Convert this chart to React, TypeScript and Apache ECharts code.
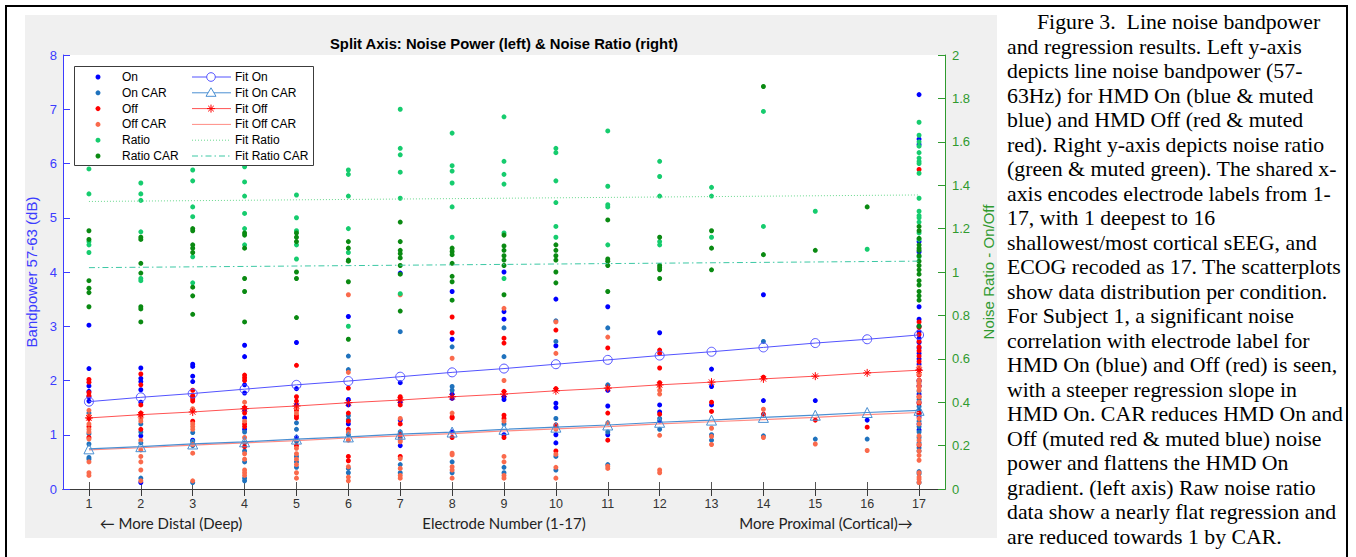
import React, { useEffect, useRef } from "react";
import * as echarts from "echarts";

// ---------- data ----------
const electrodes = [1, 2, 3, 4, 5, 6, 7, 8, 9, 10, 11, 12, 13, 14, 15, 16, 17];

// left axis: bandpower (dB)
const onValues: number[][] = [
  [3.02, 2.22, 1.9, 1.8, 1.7, 1.62],
  [2.23, 2.04, 1.98, 1.83, 1.6, 0.98, 0.12],
  [2.3, 2.26, 2.08, 1.98, 1.7, 0.9],
  [2.65, 2.44, 1.92, 1.77, 1.45, 1.31, 1.1],
  [2.7, 1.85, 1.55, 0.95],
  [3.18, 1.65, 1.55, 1.2],
  [3.98, 1.96, 1.6, 1.27, 0.8],
  [3.64, 2.76, 1.75, 1.67, 1.05],
  [4.0, 3.27, 3.13, 1.7, 1.65, 1.0],
  [3.5, 2.64, 1.58, 1.5, 1.0, 0.85],
  [3.36, 1.82, 1.53, 1.0],
  [2.88, 1.55, 1.42, 1.25],
  [2.21, 1.89, 1.55],
  [3.58, 1.63],
  [1.63],
  [1.27],
  [7.27, 6.45, 6.35, 4.56, 4.37, 3.36, 3.13, 3.0, 2.9, 2.78, 2.7, 2.6, 2.5, 2.4, 2.3, 2.2, 2.0, 1.9, 1.75, 1.6, 1.4, 1.33, 1.2, 1.09],
];
const onCarValues: number[][] = [
  [1.4, 1.02, 0.83, 0.58, 0.55],
  [1.2, 1.05, 0.85, 0.2],
  [1.04, 0.88, 0.8, 0.12],
  [1.05, 0.85, 0.7, 0.5, 0.2, 0.15],
  [1.22, 1.1, 0.88, 0.6, 0.5, 0.4],
  [2.45, 2.2, 1.35, 1.28, 1.0, 0.38, 0.3],
  [2.9, 1.05, 0.95, 0.45, 0.3],
  [2.62, 1.89, 1.82, 0.5, 0.3],
  [2.97, 2.44, 1.2, 0.4, 0.3],
  [3.1, 2.72, 1.3, 1.15, 0.6, 0.35],
  [2.97, 1.92, 1.05, 0.45],
  [1.3, 1.1],
  [1.0, 0.9],
  [2.72, 0.98],
  [0.92],
  [0.92],
  [1.98, 1.8, 1.65, 1.52, 1.45, 1.38, 1.25, 1.15, 1.05, 0.95, 0.85, 0.76, 0.7, 0.32, 0.28, 0.12],
];
const offValues: number[][] = [
  [2.02, 1.97, 1.78, 1.72, 1.3, 1.15, 0.95],
  [2.12, 1.92, 1.55, 1.4, 1.35, 1.1],
  [1.82, 1.72, 1.66, 1.62, 1.45, 1.25],
  [2.1, 2.05, 2.0, 1.5, 1.4, 1.2, 1.15, 0.78],
  [2.28, 1.7, 1.62, 1.45, 1.35, 1.31, 0.8],
  [1.86, 1.4, 1.25, 1.1, 0.6, 0.52],
  [1.7, 1.66, 1.55, 1.2, 1.0, 0.6],
  [3.17, 2.88, 1.33, 1.31, 0.95],
  [2.78, 2.69, 1.8, 1.36, 1.3, 0.95],
  [2.93, 1.85, 1.18, 0.7],
  [2.6, 1.4, 0.9],
  [2.56, 2.5, 2.23, 1.96, 1.38],
  [1.6, 1.43],
  [2.06, 1.38],
  [1.27],
  [1.14],
  [5.89, 3.08, 2.98, 2.85, 2.72, 2.62, 2.55, 2.45, 2.35, 2.2, 2.1, 2.0, 1.9, 1.7, 1.58, 1.4, 0.81],
];
const offCarValues: number[][] = [
  [1.45, 1.35, 1.2, 1.1, 1.05, 0.92, 0.5, 0.3, 0.25],
  [1.3, 1.25, 0.9, 0.72, 0.6, 0.5, 0.35, 0.15],
  [1.48, 1.2, 1.15, 1.1, 0.82, 0.66, 0.15],
  [1.6, 1.25, 0.95, 0.65, 0.55, 0.35, 0.3, 0.25],
  [1.5, 1.4, 0.75, 0.65, 0.55, 0.45, 0.3, 0.2],
  [3.58, 2.15, 1.05, 0.9, 0.41, 0.22, 0.15],
  [3.58, 1.3, 0.9, 0.87, 0.56, 0.38, 0.25, 0.2],
  [2.41, 1.4, 0.66, 0.63, 0.41, 0.35, 0.2],
  [3.33, 2.0, 1.25, 0.6, 0.5, 0.25, 0.2],
  [3.08, 2.5, 1.1, 0.64, 0.4, 0.2],
  [2.8, 1.86, 1.22, 0.42, 0.38],
  [1.9, 1.82, 1.75, 0.99, 0.35, 0.3],
  [1.12, 0.97, 0.82],
  [1.47, 0.95],
  [0.83],
  [0.71],
  [2.25, 2.12, 2.0, 1.95, 1.88, 1.82, 1.7, 1.6, 1.3, 1.2, 0.98, 0.9, 0.82, 0.7, 0.62, 0.53, 0.3, 0.22, 0.18, 0.12],
];

// right axis: noise ratio (On/Off)
const ratioValues: number[][] = [
  [1.475, 1.36, 1.14, 1.125, 1.09],
  [1.41, 1.36, 1.33, 1.185, 0.97, 0.96],
  [1.47, 1.42, 1.3, 1.255, 1.07, 0.95],
  [1.485, 1.415, 1.35, 1.27, 1.2, 1.125],
  [1.355, 1.25, 1.19, 1.125, 1.06],
  [1.47, 1.45, 1.35, 1.2, 1.09, 0.75],
  [1.75, 1.57, 1.54, 1.46, 1.34, 0.9],
  [1.64, 1.49, 1.465, 1.41, 1.3, 1.16],
  [1.715, 1.51, 1.45, 1.405, 1.18, 0.97],
  [1.57, 1.55, 1.42, 1.32, 1.21, 1.16],
  [1.65, 1.395, 1.31, 1.3, 1.125],
  [1.51, 1.44, 1.35, 1.14, 1.125],
  [1.39, 1.35, 1.16],
  [1.74, 1.21],
  [1.28],
  [1.105],
  [1.69, 1.63, 1.6, 1.58, 1.55, 1.525, 1.51, 1.5, 1.455, 1.34, 1.28, 1.26, 1.25, 1.23, 1.18, 1.15, 1.07],
];
const ratioCarValues: number[][] = [
  [1.19, 1.15, 0.96, 0.925, 0.905, 0.84],
  [1.16, 1.15, 1.04, 0.995, 0.84, 0.83, 0.77],
  [1.2, 1.19, 1.125, 1.11, 1.09, 0.93, 0.89, 0.805],
  [1.18, 1.17, 1.11, 0.97, 0.91, 0.77],
  [1.18, 1.16, 1.14, 1.0, 0.97, 0.79],
  [1.14, 1.11, 1.055, 1.05, 0.955, 0.69],
  [1.23, 1.14, 1.1, 1.085, 1.065, 1.03, 0.99, 0.82],
  [1.11, 1.095, 1.08, 1.04, 0.98, 0.955, 0.87],
  [1.17, 1.12, 1.1, 1.075, 1.055, 1.03, 0.895],
  [1.125, 1.1, 1.075, 1.055, 1.0, 0.95],
  [1.24, 1.06, 1.05, 1.03, 0.91],
  [1.16, 1.03, 1.02, 1.01, 0.97],
  [1.19, 1.11, 1.01],
  [1.855, 1.08],
  [1.1],
  [1.3],
  [1.21, 1.19, 1.155, 1.125, 1.11, 1.1, 1.075, 1.05, 1.03, 1.01, 0.99, 0.96, 0.94, 0.91, 0.89, 0.87, 0.75],
];

// regression fits (values at each electrode)
const fitOn = [1.61, 1.69, 1.76, 1.84, 1.92, 1.99, 2.07, 2.15, 2.22, 2.3, 2.38, 2.46, 2.53, 2.61, 2.69, 2.76, 2.84];
const fitOnCar = [0.74, 0.78, 0.83, 0.87, 0.92, 0.96, 1.01, 1.05, 1.1, 1.14, 1.18, 1.23, 1.27, 1.32, 1.36, 1.41, 1.45];
const fitOff = [1.31, 1.37, 1.42, 1.48, 1.53, 1.59, 1.64, 1.7, 1.75, 1.81, 1.86, 1.92, 1.97, 2.03, 2.08, 2.14, 2.19];
const fitOffCar = [0.72, 0.76, 0.81, 0.85, 0.89, 0.94, 0.98, 1.02, 1.07, 1.11, 1.15, 1.2, 1.24, 1.28, 1.32, 1.37, 1.41];
const fitRatioEnds = [1.325, 1.355];
const fitRatioCarEnds = [1.02, 1.05];

const leftTicks = { min: 0, max: 8, interval: 1 };
const rightTicks = { min: 0, max: 2, interval: 0.2 };

const titleText = "Split Axis: Noise Power (left) & Noise Ratio (right)";
const leftAxisName = "Bandpower 57-63 (dB)";
const rightAxisName = "Noise Ratio - On/Off";
const xAxisName = "Electrode Number (1-17)";
const xLeftNote = "\u2190 More Distal (Deep)";
const xRightNote = "More Proximal (Cortical)\u2192";

const captionLines = [
  "Figure 3.  Line noise bandpower",
  "and regression results. Left y-axis",
  "depicts line noise bandpower (57-",
  "63Hz) for HMD On (blue & muted",
  "blue) and HMD Off (red & muted",
  "red). Right y-axis depicts noise ratio",
  "(green & muted green). The shared x-",
  "axis encodes electrode labels from 1-",
  "17, with 1 deepest to 16",
  "shallowest/most cortical sEEG, and",
  "ECOG recoded as 17. The scatterplots",
  "show data distribution per condition.",
  "For Subject 1, a significant noise",
  "correlation with electrode label for",
  "HMD On (blue) and Off (red) is seen,",
  "with a steeper regression slope in",
  "HMD On. CAR reduces HMD On and",
  "Off (muted red & muted blue) noise",
  "power and flattens the HMD On",
  "gradient. (left axis) Raw noise ratio",
  "data show a nearly flat regression and",
  "are reduced towards 1 by CAR.",
];

// ---------- styles ----------
const C = {
  on: "#0000ff",
  onCar: "#1f72bd",
  off: "#ff0000",
  offCar: "#fa6a4c",
  ratio: "#16cc6e",
  ratioCar: "#0a8a12",
  fitOn: "#5353ff",
  fitOnCar: "#4a8fd2",
  fitOff: "#ff5252",
  fitOffCar: "#ff8c84",
  fitRatio: "#6ad88e",
  fitRatioCar: "#3cc8a4",
  leftAxis: "#3c3cff",
  rightAxis: "#2f9a2f",
};
const SANS = "'Liberation Sans', Arial, Helvetica, sans-serif";
const NOTE_FONT = "Lato, 'Open Sans', sans-serif";
const SERIF = "'Liberation Serif', 'Times New Roman', serif";

const toPoints = (cols: number[][]) =>
  cols.flatMap((col, i) => col.map((v) => [electrodes[i], v]));
const fitPoints = (vals: number[]) => vals.map((v, i) => [electrodes[i], v]);
const endPoints = (ends: number[]) => [
  [electrodes[0], ends[0]],
  [electrodes[electrodes.length - 1], ends[1]],
];

const ASTERISK = "path://M5,0L5,10M0,5L10,5M1.6,1.6L8.4,8.4M1.6,8.4L8.4,1.6";

function buildOption() {
  const scatter = (name: string, data: number[][], color: string, yAxisIndex = 0) => ({
    name,
    type: "scatter",
    yAxisIndex,
    data: toPoints(data),
    symbol: "circle",
    symbolSize: 5,
    itemStyle: { color, opacity: 1 },
    emphasis: { disabled: true },
    z: 2,
  });

  // legend (drawn in graphic layer)
  const legRows = [77, 92.8, 108.6, 124.4, 140.2, 156];
  const leftLeg = [
    ["On", C.on],
    ["On CAR", C.onCar],
    ["Off", C.off],
    ["Off CAR", C.offCar],
    ["Ratio", C.ratio],
    ["Ratio CAR", C.ratioCar],
  ];
  const legendEls: any[] = [
    {
      type: "rect",
      shape: { x: 74.5, y: 66.5, width: 239, height: 99 },
      style: { fill: "#fff", stroke: "#3c3c3c", lineWidth: 1 },
      z: 100,
    },
  ];
  leftLeg.forEach(([name, color], i) => {
    legendEls.push({ type: "circle", shape: { cx: 98, cy: legRows[i], r: 2.5 }, style: { fill: color }, z: 101 });
    legendEls.push({
      type: "text",
      x: 122,
      y: legRows[i],
      style: { text: name, fill: "#000", font: `12px ${SANS}`, verticalAlign: "middle" },
      z: 101,
    });
  });
  const rightLeg: [string, string, string, number[] | null][] = [
    ["Fit On", C.fitOn, "circle", null],
    ["Fit On CAR", C.fitOnCar, "triangle", null],
    ["Fit Off", C.fitOff, "star", null],
    ["Fit Off CAR", C.fitOffCar, "none", null],
    ["Fit Ratio", C.fitRatio, "none", [1, 2]],
    ["Fit Ratio CAR", C.fitRatioCar, "none", [6, 3, 1.5, 3]],
  ];
  rightLeg.forEach(([name, color, marker, dash], i) => {
    const y = legRows[i];
    legendEls.push({
      type: "line",
      shape: { x1: 192, y1: y, x2: 231, y2: y },
      style: { stroke: color, lineWidth: 1, lineDash: dash || undefined },
      z: 101,
    });
    if (marker === "circle") {
      legendEls.push({ type: "circle", shape: { cx: 211, cy: y, r: 4.3 }, style: { fill: "#fff", stroke: color, lineWidth: 1 }, z: 102 });
    } else if (marker === "triangle") {
      legendEls.push({
        type: "polygon",
        shape: { points: [[211, y - 5], [216, y + 3.5], [206, y + 3.5]] },
        style: { fill: "#fff", stroke: color, lineWidth: 1 },
        z: 102,
      });
    } else if (marker === "star") {
      const r = 4;
      const d = 2.8;
      [
        [0, -r, 0, r],
        [-r, 0, r, 0],
        [-d, -d, d, d],
        [-d, d, d, -d],
      ].forEach(([a, b, c, e]) =>
        legendEls.push({
          type: "line",
          shape: { x1: 211 + a, y1: y + b, x2: 211 + c, y2: y + e },
          style: { stroke: C.off, lineWidth: 1 },
          z: 102,
        })
      );
    }
    legendEls.push({
      type: "text",
      x: 235,
      y,
      style: { text: name, fill: "#000", font: `12px ${SANS}`, verticalAlign: "middle" },
      z: 101,
    });
  });

  const captionEls = captionLines.map((line, i) => ({
    type: "text",
    x: i === 0 ? 1037 : 1007,
    y: 22 + i * 24.5,
    style: { text: line, fill: "#000", font: `21.8px ${SERIF}`, verticalAlign: "middle" },
    z: 10,
  }));

  return {
    animation: false,
    backgroundColor: "#ffffff",
    title: {
      text: titleText,
      left: 504,
      top: 36,
      textAlign: "center",
      padding: 0,
      textStyle: { fontFamily: SANS, fontSize: 14.8, fontWeight: "bold", color: "#000" },
    },
    grid: { left: 63, top: 55, width: 882, height: 434, show: false, containLabel: false },
    xAxis: [
      {
        type: "value",
        position: "bottom",
        min: 0.5,
        max: 17.5,
        axisLine: { show: true, lineStyle: { color: "#555", width: 1 } },
        axisTick: { show: true, inside: true, length: 7, customValues: electrodes, lineStyle: { color: "#555" } },
        axisLabel: { show: true, customValues: electrodes, color: "#333", fontSize: 12.5, fontFamily: SANS, margin: 8 },
        splitLine: { show: false },
        name: xAxisName,
        nameLocation: "middle",
        nameGap: 26.5,
        nameTextStyle: { fontFamily: NOTE_FONT, fontSize: 15, color: "#222" },
      },
      {
        type: "value",
        position: "top",
        min: 0.5,
        max: 17.5,
        axisLine: { show: true, lineStyle: { color: "#3a3a3a", width: 1 } },
        axisTick: { show: true, inside: true, length: 7, customValues: electrodes, lineStyle: { color: "#3a3a3a" } },
        axisLabel: { show: false },
        splitLine: { show: false },
      },
    ],
    yAxis: [
      {
        type: "value",
        position: "left",
        ...leftTicks,
        axisLine: { show: true, lineStyle: { color: C.leftAxis, width: 1 } },
        axisTick: { show: true, inside: true, length: 7, lineStyle: { color: C.leftAxis } },
        axisLabel: { color: C.leftAxis, fontSize: 13, fontFamily: SANS, margin: 6 },
        splitLine: { show: false },
        name: leftAxisName,
        nameLocation: "middle",
        nameRotate: 90,
        nameGap: 18,
        nameTextStyle: { color: C.leftAxis, fontSize: 15, fontFamily: SANS },
      },
      {
        type: "value",
        position: "right",
        ...rightTicks,
        axisLine: { show: true, lineStyle: { color: C.rightAxis, width: 1 } },
        axisTick: { show: true, inside: true, length: 7, lineStyle: { color: C.rightAxis } },
        axisLabel: { color: C.rightAxis, fontSize: 13, fontFamily: SANS, margin: 7 },
        splitLine: { show: false },
        name: rightAxisName,
        nameLocation: "middle",
        nameRotate: 90,
        nameGap: 30,
        nameTextStyle: { color: C.rightAxis, fontSize: 15, fontFamily: SANS },
      },
    ],
    graphic: {
      elements: [
        { type: "rect", shape: { x: 25, y: 15, width: 972, height: 523 }, style: { fill: "#f0f0f0" }, z: -20, silent: true },
        { type: "rect", shape: { x: 63, y: 55, width: 882, height: 434 }, style: { fill: "#ffffff" }, z: -19, silent: true },
        { type: "rect", shape: { x: 6, y: 6, width: 1341, height: 600 }, style: { fill: "none", stroke: "#000", lineWidth: 2 }, z: 50, silent: true },
        {
          type: "text",
          x: 171,
          y: 523,
          style: { text: xLeftNote, fill: "#222", font: `15px ${NOTE_FONT}`, align: "center", verticalAlign: "middle" },
          z: 10,
        },
        {
          type: "text",
          x: 826,
          y: 523,
          style: { text: xRightNote, fill: "#222", font: `15px ${NOTE_FONT}`, align: "center", verticalAlign: "middle" },
          z: 10,
        },
        ...legendEls,
        ...captionEls,
      ],
    },
    series: [
      scatter("On", onValues, C.on),
      scatter("On CAR", onCarValues, C.onCar),
      scatter("Off", offValues, C.off),
      scatter("Off CAR", offCarValues, C.offCar),
      scatter("Ratio", ratioValues, C.ratio, 1),
      scatter("Ratio CAR", ratioCarValues, C.ratioCar, 1),
      {
        name: "Fit On",
        type: "line",
        data: fitPoints(fitOn),
        symbol: "circle",
        symbolSize: 9,
        showSymbol: true,
        lineStyle: { color: C.fitOn, width: 1 },
        itemStyle: { color: "rgba(0,0,0,0)", borderColor: C.fitOn, borderWidth: 1 },
        emphasis: { disabled: true },
        z: 5,
      },
      {
        name: "Fit On CAR",
        type: "line",
        data: fitPoints(fitOnCar),
        symbol: "triangle",
        symbolSize: 10,
        showSymbol: true,
        lineStyle: { color: C.fitOnCar, width: 1.2 },
        itemStyle: { color: "rgba(0,0,0,0)", borderColor: C.fitOnCar, borderWidth: 1 },
        emphasis: { disabled: true },
        z: 5,
      },
      {
        name: "Fit Off",
        type: "line",
        data: fitPoints(fitOff),
        symbol: ASTERISK,
        symbolSize: 8,
        showSymbol: true,
        lineStyle: { color: C.fitOff, width: 1 },
        itemStyle: { color: "rgba(0,0,0,0)", borderColor: C.off, borderWidth: 1 },
        emphasis: { disabled: true },
        z: 5,
      },
      {
        name: "Fit Off CAR",
        type: "line",
        data: fitPoints(fitOffCar),
        symbol: "none",
        lineStyle: { color: C.fitOffCar, width: 1.2 },
        emphasis: { disabled: true },
        z: 4,
      },
      {
        name: "Fit Ratio",
        type: "line",
        yAxisIndex: 1,
        data: endPoints(fitRatioEnds),
        symbol: "none",
        lineStyle: { color: C.fitRatio, width: 1, type: [1, 2] },
        emphasis: { disabled: true },
        z: 4,
      },
      {
        name: "Fit Ratio CAR",
        type: "line",
        yAxisIndex: 1,
        data: endPoints(fitRatioCarEnds),
        symbol: "none",
        lineStyle: { color: C.fitRatioCar, width: 1, type: [6, 3, 1.5, 3] },
        emphasis: { disabled: true },
        z: 4,
      },
    ],
  };
}

export default function App() {
  const ref = useRef<HTMLDivElement>(null);
  useEffect(() => {
    document.body.style.margin = "0";
    if (!ref.current) return;
    const chart = echarts.init(ref.current, undefined, { renderer: "svg", width: 1356, height: 557 });
    chart.setOption(buildOption() as any);
    return () => chart.dispose();
  }, []);
  return <div ref={ref} style={{ width: 1356, height: 557 }} />;
}
